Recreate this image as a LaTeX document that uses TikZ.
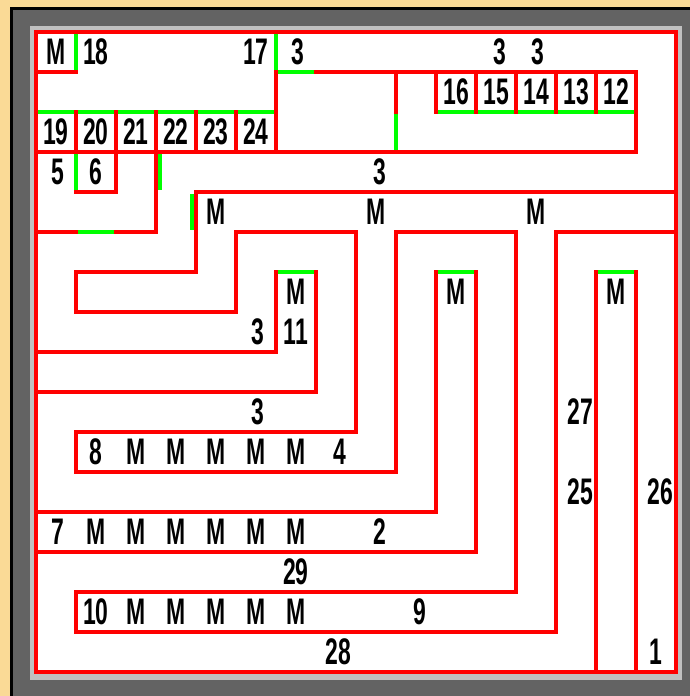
\documentclass[tikz,border=0pt]{standalone}
\usepackage{fontspec}
\newfontfamily\pixfont[FakeStretch=0.62]{Liberation Sans}
\definecolor{wallred}{RGB}{255,0,0}
\definecolor{doorgreen}{RGB}{0,255,0}
\definecolor{framedark}{RGB}{99,99,99}
\definecolor{framelight}{RGB}{192,192,192}
\definecolor{parch}{RGB}{250,218,150}
\tikzset{
  wall/.style={draw=wallred,line width=3.8pt,line cap=rect},
  door/.style={draw=doorgreen,line width=3.8pt},
  lbl/.style={font=\pixfont\bfseries\fontsize{37}{37}\selectfont,inner sep=0pt,text=black}
}
\begin{document}
\begin{tikzpicture}[x=1pt,y=-1pt]
\useasboundingbox (0,0) rectangle (690,696);
\fill[parch] (0,0) rectangle (690,696);
\fill[black] (10,7) rectangle (690,696);
\fill[framedark] (13,10) rectangle (690,696);
\fill[framelight] (30,26) rectangle (682,680);
\fill[white] (34,30) rectangle (678,674);
\begin{scope}[shift={(36pt,-32pt)},x=40pt,y=-40pt]
% doors
\draw[door] (1,0) -- (1,1);
\draw[door] (6,0) -- (6,1);
\draw[door] (6,1) -- (7,1);
\draw[door] (0,2) -- (6,2);
\draw[door] (9,2) -- (9,3);
\draw[door] (10,2) -- (15,2);
\draw[door] (1,3) -- (1,4);
\draw[door] (1,5) -- (2,5);
\draw[door] (3.1,3.03) -- (3.1,3.95);
\draw[door] (3.9,4.05) -- (3.9,4.95);
\draw[door] (6,6) -- (7,6);
\draw[door] (10,6) -- (11,6);
\draw[door] (14,6) -- (15,6);
% walls
\draw[wall] (0,0) rectangle (16,16);
\draw[wall] (0,1) -- (1,1);
\draw[wall] (6,1) -- (6,3);
\draw[wall] (7,1) -- (15,1) -- (15,3);
\draw[wall] (0,3) -- (15,3);
\draw[wall] (9,1) -- (9,2);
\foreach \c in {10,...,14} \draw[wall] (\c,1) -- (\c,2);
\foreach \c in {1,...,5} \draw[wall] (\c,2) -- (\c,3);
\draw[wall] (2,3) -- (2,4) -- (1,4);
\draw[wall] (3,3) -- (3,5);
\draw[wall] (0,5) -- (1,5);
\draw[wall] (2,5) -- (3,5);
\draw[wall] (16,4) -- (4,4) -- (4,6) -- (1,6) -- (1,7) -- (5,7) -- (5,5) -- (8,5) -- (8,10) -- (1,10) -- (1,11) -- (9,11) -- (9,5) -- (12,5) -- (12,14) -- (1,14) -- (1,15) -- (13,15) -- (13,5) -- (16,5);
\draw[wall] (0,8) -- (6,8) -- (6,6);
\draw[wall] (0,9) -- (7,9) -- (7,6);
\draw[wall] (0,12) -- (10,12) -- (10,6);
\draw[wall] (0,13) -- (11,13) -- (11,6);
\draw[wall] (14,6) -- (14,16);
\draw[wall] (15,6) -- (15,16);
% labels
\node[lbl] (m00) at (0.5,0.5) {M};
\node[lbl] (t18) at (1.5,0.5) {18};
\node[lbl] (t17) at (5.5,0.5) {17};
\node[lbl] (t3a) at (6.55,0.5) {3};
\node[lbl] (t3b) at (11.6,0.5) {3};
\node[lbl] (t3c) at (12.55,0.5) {3};
\node[lbl] (t16) at (10.5,1.5) {16};
\node[lbl] (t15) at (11.5,1.5) {15};
\node[lbl] (t14) at (12.5,1.5) {14};
\node[lbl] (t13) at (13.5,1.5) {13};
\node[lbl] (t12) at (14.5,1.5) {12};
\node[lbl] (t19) at (0.5,2.5) {19};
\node[lbl] (t20) at (1.5,2.5) {20};
\node[lbl] (t21) at (2.5,2.5) {21};
\node[lbl] (t22) at (3.5,2.5) {22};
\node[lbl] (t23) at (4.5,2.5) {23};
\node[lbl] (t24) at (5.5,2.5) {24};
\node[lbl] (t5) at (0.55,3.5) {5};
\node[lbl] (t6) at (1.5,3.5) {6};
\node[lbl] (t3d) at (8.6,3.5) {3};
\node[lbl] (m44) at (4.5,4.5) {M};
\node[lbl] (m48) at (8.5,4.5) {M};
\node[lbl] (m412) at (12.5,4.5) {M};
\node[lbl] (m66) at (6.5,6.5) {M};
\node[lbl] (m610) at (10.5,6.5) {M};
\node[lbl] (m614) at (14.5,6.5) {M};
\node[lbl] (t3e) at (5.55,7.5) {3};
\node[lbl] (t11) at (6.5,7.5) {11};
\node[lbl] (t3f) at (5.55,9.5) {3};
\node[lbl] (t27) at (13.6,9.5) {27};
\node[lbl] (t8) at (1.5,10.5) {8};
\foreach \c in {2,...,6} \node[lbl] (ma\c) at (\c+0.5,10.5) {M};
\node[lbl] (t4) at (7.6,10.5) {4};
\node[lbl] (t25) at (13.6,11.5) {25};
\node[lbl] (t26) at (15.6,11.5) {26};
\node[lbl] (t7) at (0.55,12.5) {7};
\foreach \c in {1,...,6} \node[lbl] (mb\c) at (\c+0.5,12.5) {M};
\node[lbl] (t2) at (8.6,12.5) {2};
\node[lbl] (t29) at (6.5,13.5) {29};
\node[lbl] (t10) at (1.5,14.5) {10};
\foreach \c in {2,...,6} \node[lbl] (mc\c) at (\c+0.5,14.5) {M};
\node[lbl] (t9) at (9.6,14.5) {9};
\node[lbl] (t28) at (7.55,15.5) {28};
\node[lbl] (t1) at (15.5,15.5) {1};
\end{scope}
\end{tikzpicture}
\end{document}
